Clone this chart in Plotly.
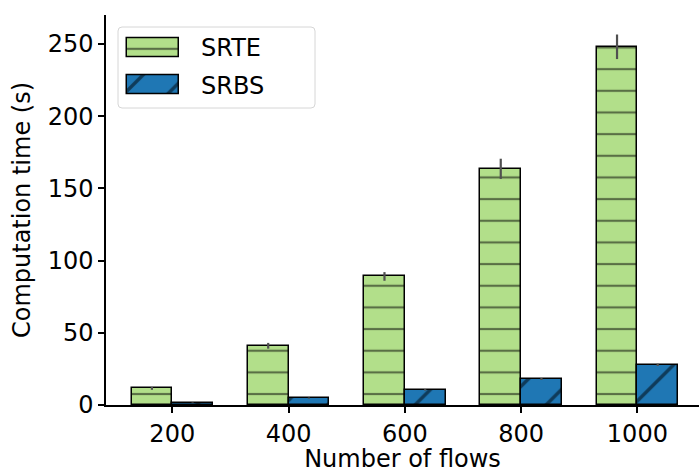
import plotly.graph_objects as go

flows = ["200", "400", "600", "800", "1000"]
srte = [11.5, 41, 89, 163.5, 248]
srte_err = [1, 2, 3, 7, 8.5]
srbs = [1.5, 4.8, 10.5, 18, 27.8]
srbs_err = [0.3, 0.4, 0.5, 0.7, 0.8]
series_names = ["SRTE", "SRBS"]

xpos = list(range(len(flows)))
W = 0.35

# figure geometry (pixels)
FW, FH = 699, 473
ML, MR, MT, MB = 106, 0, 15, 68
PW, PH = FW - ML - MR, FH - MT - MB
FS = 24


def px(x):
    return (x - ML) / PW


def py(y):
    return (FH - MB - y) / PH


SRTE_STYLE = dict(color="#b2df8a", line=dict(color="black", width=1.5),
                  pattern=dict(shape="-", size=21.66, solidity=0.1, fgcolor="black"))
SRBS_STYLE = dict(color="#1f77b4", line=dict(color="black", width=1.5),
                  pattern=dict(shape="/", size=30.89, solidity=0.11, fgcolor="black"))

fig = go.Figure()
fig.add_trace(go.Bar(
    x=xpos, y=srte, width=W, offset=-W, name=series_names[0], showlegend=False,
    marker=SRTE_STYLE,
    error_y=dict(type="data", array=srte_err, color="#505050", thickness=2.2, width=0),
))
fig.add_trace(go.Bar(
    x=xpos, y=srbs, width=W, offset=0, name=series_names[1], showlegend=False,
    marker=SRBS_STYLE,
    error_y=dict(type="data", array=srbs_err, color="#505050", thickness=2.2, width=0),
))

# ---- custom legend (matplotlib-like large hatched patches) ----
x0, x1, y0, y1, r = 118, 315, 27, 108, 4
path = (f"M {px(x0+r)},{py(y0)} L {px(x1-r)},{py(y0)} Q {px(x1)},{py(y0)} {px(x1)},{py(y0+r)} "
        f"L {px(x1)},{py(y1-r)} Q {px(x1)},{py(y1)} {px(x1-r)},{py(y1)} "
        f"L {px(x0+r)},{py(y1)} Q {px(x0)},{py(y1)} {px(x0)},{py(y1-r)} "
        f"L {px(x0)},{py(y0+r)} Q {px(x0)},{py(y0)} {px(x0+r)},{py(y0)} Z")
fig.add_shape(type="path", path=path, xref="paper", yref="paper",
              line=dict(color="#d6d6d6", width=1), fillcolor="white", layer="below")

# inset axes (pixel units) hosting the legend swatches
LX0, LX1 = 120, 185
A2_TOP, A2_BOT = 16.34, 62.0
A3_TOP, A3_BOT = 54.31, 98.0
fig.add_trace(go.Bar(x=[52], y=[38 - A2_TOP + 9.5], base=[127 - LX0], width=[19],
                     orientation="h", marker=SRTE_STYLE, xaxis="x2", yaxis="y2",
                     showlegend=False, hoverinfo="skip"))
fig.add_trace(go.Bar(x=[52], y=[75 - A3_TOP + 9.5], base=[127 - LX0], width=[19],
                     orientation="h", marker=SRBS_STYLE, xaxis="x3", yaxis="y3",
                     showlegend=False, hoverinfo="skip"))

for name, yc in zip(series_names, [48, 86]):
    fig.add_annotation(x=px(199), y=py(yc), xref="paper", yref="paper",
                       xanchor="left", yanchor="middle", text=name, showarrow=False,
                       font=dict(size=FS, color="black"))

inset_axis = dict(visible=False, fixedrange=True, showgrid=False, zeroline=False)

fig.update_layout(
    width=FW, height=FH,
    margin=dict(l=ML, r=MR, t=MT, b=MB),
    paper_bgcolor="white", plot_bgcolor="rgba(0,0,0,0)",
    font=dict(family="DejaVu Sans", size=FS, color="black"),
    showlegend=False,
    bargap=0,
    xaxis=dict(
        range=[-0.57, 4.53], tickvals=xpos, ticktext=flows,
        showline=True, linecolor="black", linewidth=1.5,
        ticks="outside", ticklen=6, tickwidth=1.5, tickcolor="black",
        tickfont=dict(size=FS),
        showgrid=False, zeroline=False,
        title=dict(text="Number of flows", standoff=4, font=dict(size=FS)),
    ),
    yaxis=dict(
        range=[0, 270], tickvals=[0, 50, 100, 150, 200, 250],
        showline=True, linecolor="black", linewidth=1.5,
        ticks="outside", ticklen=6, tickwidth=1.5, tickcolor="black",
        tickfont=dict(size=FS),
        showgrid=False, zeroline=False,
        title=dict(text="Computation time (s)", standoff=10, font=dict(size=FS)),
    ),
    xaxis2=dict(domain=[px(LX0), px(LX1)], range=[0, LX1 - LX0], anchor="y2", **inset_axis),
    yaxis2=dict(domain=[py(A2_BOT), py(A2_TOP)], range=[A2_BOT - A2_TOP, 0], anchor="x2", **inset_axis),
    xaxis3=dict(domain=[px(LX0), px(LX1)], range=[0, LX1 - LX0], anchor="y3", **inset_axis),
    yaxis3=dict(domain=[py(A3_BOT), py(A3_TOP)], range=[A3_BOT - A3_TOP, 0], anchor="x3", **inset_axis),
)

fig.write_html("out.html")
